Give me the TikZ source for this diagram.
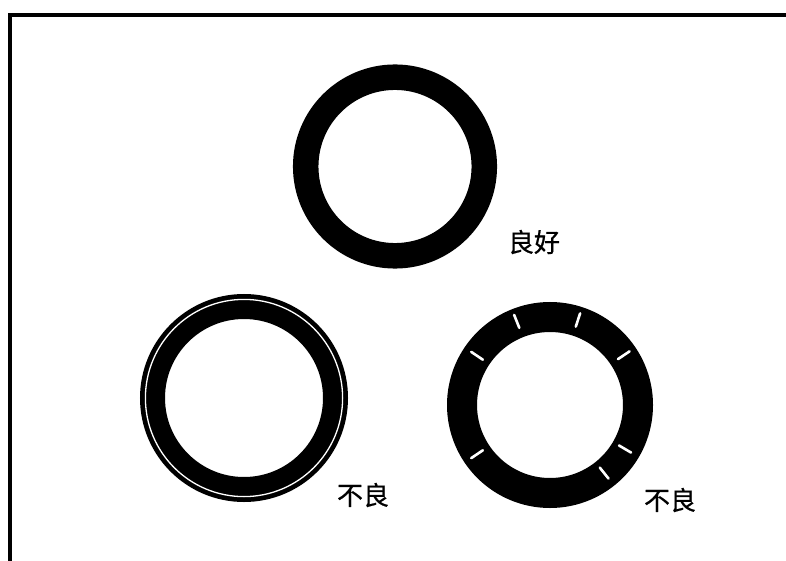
\documentclass[tikz,border=0pt]{standalone}
\usepackage{fontspec}
\usetikzlibrary{calc}
\newfontfamily\cjk[FakeBold=0.6]{Noto Sans CJK SC}
\begin{document}
\begin{tikzpicture}[x=1pt,y=-1pt,
  ringband/.style={draw=black},
  crack/.style={draw=white,line width=2.6pt,line cap=round},
  lbl/.style={font=\cjk\fontsize{26}{26}\selectfont,inner sep=0pt,text=black}]
\useasboundingbox (0,0) rectangle (786,561);
% frame (right and bottom edges run off the picture)
\begin{scope}
\clip (0,0) rectangle (786,561);
\draw[line width=4.3pt] (10.3,600) -- (10.3,14.8) -- (820,14.8);
\end{scope}
% top ring: good
\coordinate (cgood) at (395,166.5);
\draw[ringband,line width=25.5pt] (cgood) circle[radius=89.3];
\node[lbl] (lgood) at (534,242) {良好};
% bottom left ring: bad (double edge)
\coordinate (cleft) at (244,398);
\draw[ringband,line width=25pt] (cleft) circle[radius=91.5];
\draw[white,line width=1.3pt] (cleft) circle[radius=98.6];
\node[lbl] (lleft) at (363,495) {不良};
% bottom right ring: bad (cracks)
\coordinate (cright) at (550,405);
\draw[ringband,line width=30pt] (cright) circle[radius=88];
\foreach \a/\r in {111.7/90,71.8/89.5,146/88,34/89,214/88,-30.4/87,-51.5/87}{
  \draw[crack] ($(cright)+(-\a:\r-7)$) -- ($(cright)+(-\a:\r+7)$);
}
\node[lbl] (lright) at (670,500) {不良};
\end{tikzpicture}
\end{document}
